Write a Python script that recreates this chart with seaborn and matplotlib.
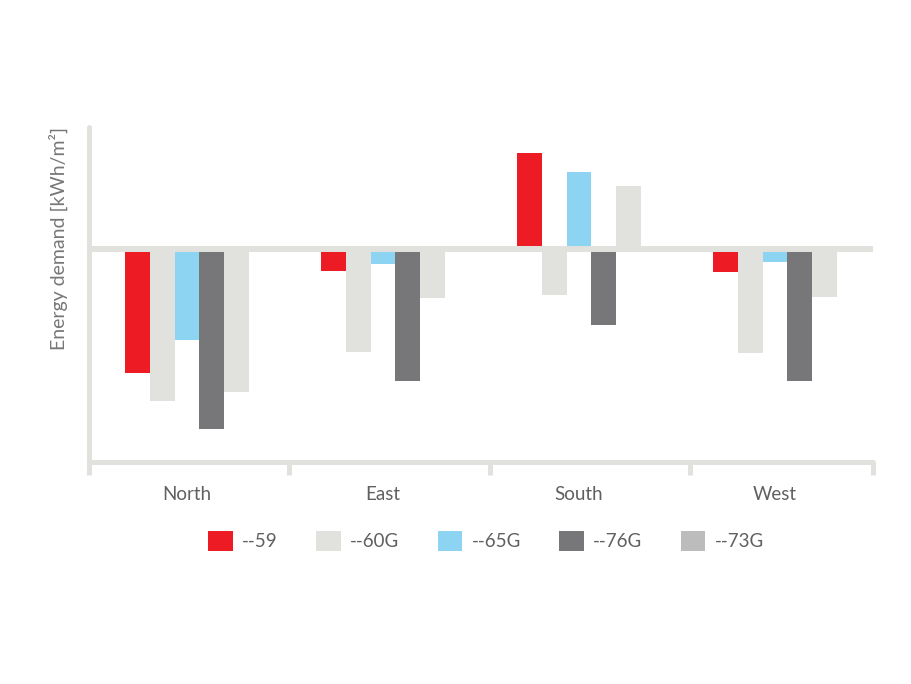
import pandas as pd
import matplotlib.pyplot as plt
import seaborn as sns
from matplotlib.patches import Patch

# Chart data (arbitrary units)
regions = ['North', 'East', 'South', 'West']
series = ['--59', '--60G', '--65G', '--76G', '--73G']
values = {
    '--59':  [-24.8, -4.4, 19.2, -4.6],
    '--60G': [-30.4, -20.6, -9.2, -20.8],
    '--65G': [-18.2, -3.0, 15.4, -2.6],
    '--76G': [-36.0, -26.4, -15.2, -26.4],
    '--73G': [-28.7, -9.8, 12.6, -9.6],
}
bar_colors = ['#ed1c24', '#e1e1dd', '#8dd3f2', '#77777a', '#e1e1dd']
legend_colors = ['#ed1c24', '#e1e1dd', '#8dd3f2', '#77777a', '#bcbcbc']

df = pd.DataFrame([
    {'region': r, 'series': s, 'value': v}
    for s in series for r, v in zip(regions, values[s])
])

sns.set_style('white')
plt.rcParams['font.family'] = ['Lato', 'DejaVu Sans']

axis_grey = '#e1e1dd'
text_grey = '#606060'

fig = plt.figure(figsize=(9.12, 6.84), dpi=100)
ax = fig.add_axes([0.0976, 0.3246, 0.8596, 0.4897])

sns.barplot(data=df, x='region', y='value', hue='series', order=regions,
            hue_order=series, palette=dict(zip(series, bar_colors)),
            saturation=1, width=0.63, edgecolor='none', linewidth=0,
            legend=False, errorbar=None, ax=ax)

# thick zero line over the bars
ax.axhline(0, color=axis_grey, lw=4.3, zorder=5, solid_capstyle='round')

ax.set_xlim(-0.5, 3.5)
ax.set_ylim(-42.6, 24.4)

for side in ['top', 'right']:
    ax.spines[side].set_visible(False)
for side in ['left', 'bottom']:
    ax.spines[side].set_color(axis_grey)
    ax.spines[side].set_linewidth(3.6)
    ax.spines[side].set_capstyle('round')

ax.set_yticks([])
ax.set_xticks(range(len(regions)))
ax.set_xticklabels(regions, fontsize=13.5, color=text_grey)
ax.tick_params(axis='x', which='major', bottom=True, length=0, pad=17)
# group separators
ax.set_xticks([-0.5, 0.52, 1.546, 2.566, 3.5], minor=True)
ax.tick_params(axis='x', which='minor', bottom=True, length=9, width=3.6,
               color=axis_grey)
ax.set_xlabel('')
ax.set_ylabel('Energy demand [kWh/m²]', fontsize=14, color='#777777',
              loc='top', labelpad=15)

handles = [Patch(facecolor=c, edgecolor='none', label=s)
           for s, c in zip(series, legend_colors)]
leg = fig.legend(handles=handles, loc='center', bbox_to_anchor=(0.533, 0.209),
                 ncol=5, frameon=False, fontsize=13.5, handlelength=1.3,
                 handleheight=1.3, handletextpad=0.5, columnspacing=2.05)
for t in leg.get_texts():
    t.set_color(text_grey)

fig.savefig('out.png', dpi=100)
